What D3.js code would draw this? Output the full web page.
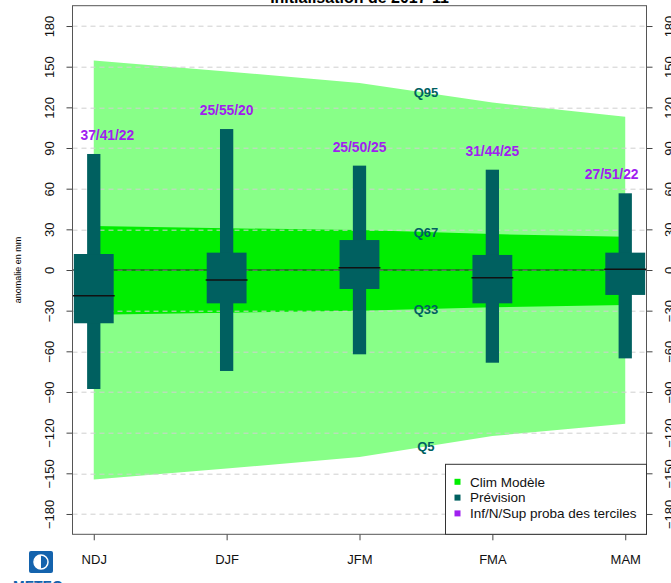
<!DOCTYPE html>
<html>
<head>
<meta charset="utf-8">
<script src="https://cdn.jsdelivr.net/npm/d3@7"></script>
<style>
  body { margin: 0; background: #fff; }
  svg { display: block; font-family: "Liberation Sans", Arial, Helvetica, sans-serif; }
</style>
</head>
<body>
<svg id="chart" width="671" height="583"></svg>
<script>
// saisons prevues
var seasons = ["NDJ", "DJF", "JFM", "FMA", "MAM"];

// climatologie du modele (quantiles, anomalie en mm)
var q95 = [154.5, 146.5, 138, 123.5, 113];
var q67 = [32.5, 30.8, 29.5, 26.5, 24.6];
var q33 = [-33, -31.5, -30, -27.5, -25.8];
var q5 = [-154.5, -146.5, -138, -122.5, -113.5];

// prevision (boites a moustaches)
var whiskerHi = [85.6, 104, 77, 74, 56.6];
var boxHi = [11.8, 12.8, 22.1, 11.1, 12.8];
var median = [-19, -7.4, 1.7, -5.7, 0.5];
var boxLo = [-39.3, -24.6, -14, -24.6, -18.4];
var whiskerLo = [-87.8, -74.5, -62.2, -68.4, -65.2];

// probas des terciles inf/N/sup
var probas = ["37/41/22", "25/55/20", "25/50/25", "31/44/25", "27/51/22"];

var yTicks = [-180, -150, -120, -90, -60, -30, 0, 30, 60, 90, 120, 150, 180];
var quantLabels = ["Q95", "Q67", "Q33", "Q5"];
var legendLabels = ["Clim Modèle", "Prévision", "Inf/N/Sup proba des terciles"];

var colLight = "#88ff88",
  colGreen = "#00ee00",
  colBox = "#006060",
  colProba = "#a020f0";

var svg = d3.select("#chart"),
  margin = {top: 5.7, right: 24.5, bottom: 48.7, left: 72.5},
  width = +svg.attr("width") - margin.left - margin.right,
  height = +svg.attr("height") - margin.top - margin.bottom,
  g = svg.append("g").attr("transform", "translate(" + margin.left + "," + margin.top + ")");

var x = d3.scalePoint()
  .domain(seasons)
  .range([0, width])
  .padding(0.16);

var y = d3.scaleLinear()
  .domain([-195, 195])
  .range([height, 0]);

var step = x.step();

g.append("clipPath").attr("id", "clip")
  .append("rect").attr("width", width).attr("height", height);

var plot = g.append("g").attr("clip-path", "url(#clip)");

// bandes climatologiques
var band = function(lo, hi) {
  return d3.area()
    .x(function(d, i) { return x(seasons[i]); })
    .y0(function(d, i) { return y(lo[i]); })
    .y1(function(d, i) { return y(hi[i]); })(seasons);
};

plot.append("path").attr("d", band(q5, q95)).attr("fill", colLight);
plot.append("path").attr("d", band(q33, q67)).attr("fill", colGreen);

// grille
plot.selectAll(".grid")
  .data(yTicks)
  .enter().append("line")
  .attr("class", "grid")
  .attr("x1", 0).attr("x2", width)
  .attr("y1", function(d) { return Math.round(y(d)) + 0.5; })
  .attr("y2", function(d) { return Math.round(y(d)) + 0.5; })
  .attr("stroke", "#cfcfcf")
  .attr("stroke-dasharray", "5,4");

plot.append("line")
  .attr("x1", 0).attr("x2", width)
  .attr("y1", y(0)).attr("y2", y(0))
  .attr("stroke", "#222").attr("stroke-width", 1);

// libelles des quantiles, entre JFM et FMA
var qx = (x("JFM") + x("FMA")) / 2;
var qVals = [q95, q67, q33, q5].map(function(a) { return (a[2] + a[3]) / 2; });
g.selectAll(".qlab")
  .data(quantLabels)
  .enter().append("text")
  .attr("class", "qlab")
  .attr("x", qx)
  .attr("y", function(d, i) { return y(qVals[i]); })
  .attr("dy", "0.36em")
  .attr("text-anchor", "middle")
  .attr("font-size", 13)
  .attr("font-weight", "bold")
  .attr("fill", colBox)
  .text(function(d) { return d; });

// boites
var box = plot.selectAll(".box")
  .data(seasons)
  .enter().append("g")
  .attr("class", "box")
  .attr("transform", function(d) { return "translate(" + x(d) + ",0)"; });

box.append("rect")
  .attr("x", -step * 0.05)
  .attr("width", step * 0.1)
  .attr("y", function(d, i) { return y(whiskerHi[i]); })
  .attr("height", function(d, i) { return y(whiskerLo[i]) - y(whiskerHi[i]); })
  .attr("fill", colBox);

box.append("rect")
  .attr("x", -step * 0.15)
  .attr("width", step * 0.3)
  .attr("y", function(d, i) { return y(boxHi[i]); })
  .attr("height", function(d, i) { return y(boxLo[i]) - y(boxHi[i]); })
  .attr("fill", colBox);

box.append("line")
  .attr("x1", -step * 0.15 - 1)
  .attr("x2", step * 0.15 + 1)
  .attr("y1", function(d, i) { return y(median[i]); })
  .attr("y2", function(d, i) { return y(median[i]); })
  .attr("stroke", "#111")
  .attr("stroke-width", 1.6);

// probas au-dessus des moustaches
g.selectAll(".proba")
  .data(probas)
  .enter().append("text")
  .attr("class", "proba")
  .attr("text-anchor", "middle")
  .attr("font-size", 13.8)
  .attr("font-weight", "bold")
  .attr("fill", colProba)
  .attr("y", function(d, i) { return y(whiskerHi[i]) - 19; })
  .attr("dy", "0.36em")
  .text(function(d) { return d; })
  .attr("x", function(d, i) {
    var half = this.getComputedTextLength() / 2;
    return Math.max(8 + half, Math.min(width - 8 - half, x(seasons[i])));
  });

// axes
var yLeft = g.append("g")
  .call(d3.axisLeft(y).tickValues(yTicks).tickSize(6));
var yRight = g.append("g")
  .attr("transform", "translate(" + width + ",0)")
  .call(d3.axisRight(y).tickValues(yTicks).tickSize(6));

[yLeft, yRight].forEach(function(ax, k) {
  ax.select(".domain").remove();
  ax.selectAll("line").attr("stroke", "#444");
  ax.selectAll("text")
    .attr("transform", "rotate(-90)")
    .attr("x", 0)
    .attr("y", k === 0 ? -19 : 27)
    .attr("dy", 0)
    .attr("text-anchor", "middle")
    .attr("font-size", 13)
    .attr("fill", "#111");
});

var xAxis = g.append("g")
  .attr("transform", "translate(0," + height + ")")
  .call(d3.axisBottom(x).tickSize(6).tickPadding(14));
xAxis.select(".domain").remove();
xAxis.selectAll("line").attr("stroke", "#444");
xAxis.selectAll("text").attr("font-size", 13).attr("fill", "#111");
svg.selectAll(".tick text").attr("font-family", null);

// cadre
g.append("rect")
  .attr("width", width).attr("height", height)
  .attr("fill", "none").attr("stroke", "#555");

// titre axe y
svg.append("text")
  .attr("transform", "translate(21," + (margin.top + y(0)) + ") rotate(-90)")
  .attr("text-anchor", "middle")
  .attr("font-size", 9)
  .text("anomalie en mm");

// titre
svg.append("text")
  .attr("x", margin.left + width / 2)
  .attr("y", 3)
  .attr("text-anchor", "middle")
  .attr("font-size", 16)
  .attr("font-weight", "bold")
  .text("Initialisation de 2017-11");

// legende
var leg = g.append("g").attr("transform", "translate(" + (width - 201) + "," + (height - 70) + ")");
leg.append("rect")
  .attr("width", 201).attr("height", 70)
  .attr("fill", "#fff").attr("stroke", "#333");
var legItem = leg.selectAll(".item")
  .data(legendLabels)
  .enter().append("g")
  .attr("transform", function(d, i) { return "translate(0," + (17.5 + i * 15.8) + ")"; });
legItem.append("rect")
  .attr("x", 9).attr("y", -3).attr("width", 6).attr("height", 6)
  .attr("fill", function(d, i) { return [colGreen, colBox, colProba][i]; });
legItem.append("text")
  .attr("x", 24.5).attr("dy", "0.36em")
  .attr("font-size", 13.5)
  .attr("fill", "#111")
  .text(function(d) { return d; });

// logo
var logo = svg.append("g").attr("transform", "translate(29,551)");
logo.append("rect").attr("width", 24).attr("height", 22).attr("rx", 2).attr("fill", "#1463ad");
logo.append("circle").attr("cx", 12).attr("cy", 11).attr("r", 7).attr("fill", "none")
  .attr("stroke", "#fff").attr("stroke-width", 1.5);
logo.append("path").attr("d", "M12,4 A7,7 0 0,0 12,18 Z").attr("fill", "#fff");
var logoText = svg.append("text")
  .attr("x", 13).attr("y", 591)
  .attr("font-size", 14).attr("font-weight", "bold")
  .attr("fill", "#1463ad");
logoText.append("tspan").text("METEO");
logoText.append("tspan").attr("x", 13).attr("dy", 15).text("FRANCE");
</script>
</body>
</html>
